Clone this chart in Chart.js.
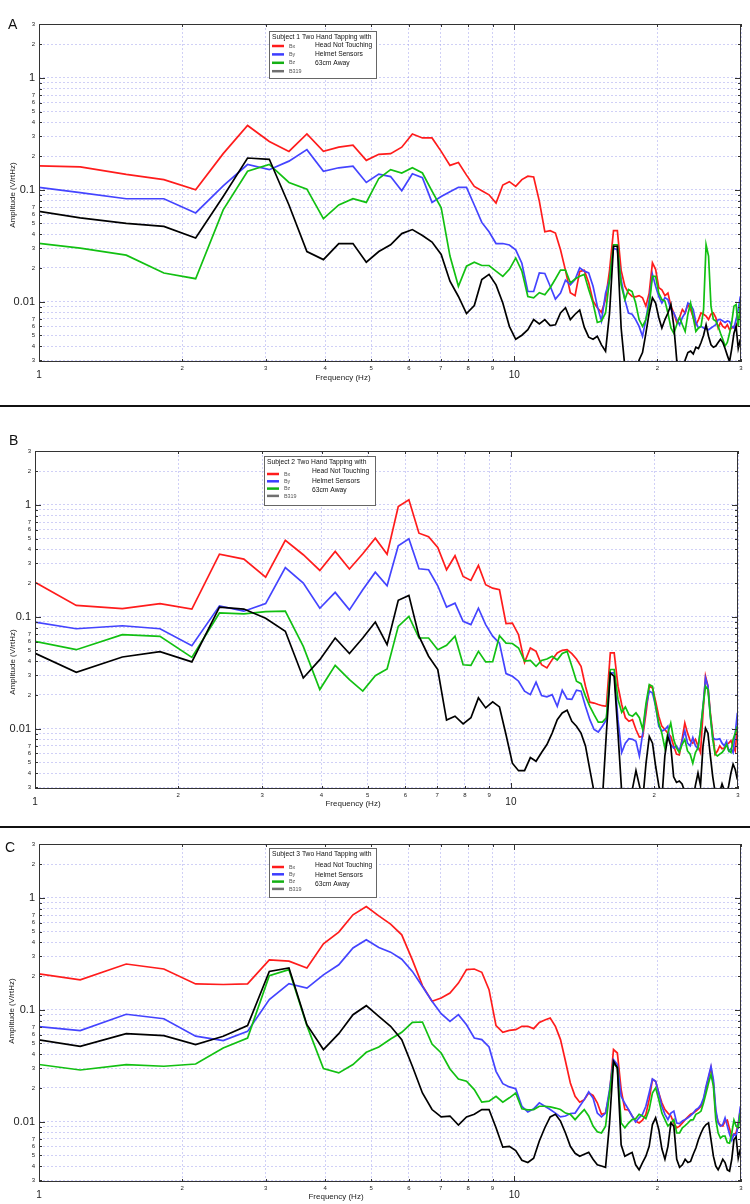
<!DOCTYPE html>
<html>
<head>
<meta charset="utf-8">
<script src="https://cdn.jsdelivr.net/npm/chart.js@4.4.0/dist/chart.umd.min.js"></script>
<style>
  body { margin: 0; background: #fff; }
  #page { position: relative; width: 750px; height: 1204px; overflow: hidden; font-family: 'Liberation Sans', Arial, sans-serif; }
  .panel { position: absolute; left: 0; }
  .letter { position: absolute; font-size: 14px; line-height: 14px; color: #111; }
  .sep { position: absolute; left: 0; width: 750px; height: 2px; background: #111; }
</style>
</head>
<body>
<div id="page">
  <div class="panel" style="top:0px"><canvas id="chartA" width="750" height="405"></canvas></div>
  <div class="sep" style="top:405px"></div>
  <div class="panel" style="top:407px"><canvas id="chartB" width="750" height="420"></canvas></div>
  <div class="sep" style="top:826px"></div>
  <div class="panel" style="top:828px"><canvas id="chartC" width="750" height="376"></canvas></div>
  <div class="letter" style="left:8px;top:17px">A</div>
  <div class="letter" style="left:9px;top:433px">B</div>
  <div class="letter" style="left:5px;top:840px">C</div>
</div>
<script>
// frequency bins (Hz)
const freqs = [
  0.916, 1.221, 1.526, 1.831, 2.136, 2.441, 2.747, 3.052, 3.357, 3.662,
  3.967, 4.273, 4.578, 4.883, 5.188, 5.493, 5.798, 6.104, 6.409, 6.714,
  7.019, 7.324, 7.630, 7.935, 8.240, 8.545, 8.850, 9.155, 9.461, 9.766,
  10.071, 10.376, 10.681, 10.986, 11.292, 11.597, 11.902, 12.207, 12.512, 12.818,
  13.123, 13.428, 13.733, 14.038, 14.343, 14.649, 14.954, 15.259, 15.564, 15.869,
  16.175, 16.480, 16.785, 17.090, 17.395, 17.700, 18.006, 18.311, 18.616, 18.921,
  19.226, 19.532, 19.837, 20.142, 20.447, 20.752, 21.057, 21.363, 21.668, 21.973,
  22.278, 22.583, 22.888, 23.194, 23.499, 23.804, 24.109, 24.414, 24.720, 25.025,
  25.330, 25.635, 25.940, 26.245, 26.551, 26.856, 27.161, 27.466, 27.771, 28.076,
  28.382, 28.687, 28.992, 29.297, 29.602, 29.908
];

const seriesNames = ['Bx', 'By', 'Bz', 'B319'];
const lineColors = ['#ff1c1c', '#4444ff', '#12c012', '#000000'];
const legendColors = ['#ff1c1c', '#3c3cff', '#14b014', '#707070'];
const noteLines = ['Head Not Touching', 'Helmet Sensors', '63cm Away'];
const panelTitles = ['Subject 1 Two Hand Tapping with', 'Subject 2 Two Hand Tapping with', 'Subject 3 Two Hand Tapping with'];

const xTickValues = [1, 2, 3, 4, 5, 6, 7, 8, 9, 10, 20, 30];
const xTickLabels = ['1', '2', '3', '4', '5', '6', '7', '8', '9', '10', '2', '3'];
const yTickValues = [0.003, 0.004, 0.005, 0.006, 0.007, 0.008, 0.009,
  0.01, 0.02, 0.03, 0.04, 0.05, 0.06, 0.07, 0.08, 0.09,
  0.1, 0.2, 0.3, 0.4, 0.5, 0.6, 0.7, 0.8, 0.9, 1, 2, 3];
const yTickLabels = ['3', '4', '5', '6', '7', '', '',
  '0.01', '2', '3', '4', '5', '6', '7', '', '',
  '0.1', '2', '3', '4', '5', '6', '7', '', '', '1', '2', '3'];

// Subject 1
const redA = [
  0.165, 0.16, 0.137, 0.123, 0.1, 0.21, 0.375, 0.27, 0.22, 0.315,
  0.22, 0.24, 0.25, 0.183, 0.207, 0.21, 0.24, 0.315, 0.29, 0.29,
  0.22, 0.165, 0.175, 0.135, 0.107, 0.098, 0.09, 0.076, 0.11, 0.118,
  0.107, 0.123, 0.132, 0.13, 0.079, 0.042, 0.043, 0.041, 0.029, 0.019,
  0.012, 0.0113, 0.0186, 0.019, 0.0147, 0.0101, 0.0088, 0.008, 0.0104, 0.019,
  0.043, 0.043, 0.019, 0.0137, 0.0119, 0.0111, 0.011, 0.0113, 0.0108, 0.0091,
  0.0119, 0.0222, 0.0194, 0.0133, 0.0127, 0.0113, 0.0119, 0.0091, 0.0079, 0.0065,
  0.0072, 0.0085, 0.0079, 0.0094, 0.0085, 0.0072, 0.0062, 0.0069, 0.0079, 0.0077,
  0.0074, 0.0069, 0.0077, 0.0079, 0.0072, 0.0058, 0.0065, 0.006, 0.0058, 0.0062,
  0.0056, 0.0058, 0.006, 0.0058, 0.0069, 0.0079
];
const blueA = [
  0.11, 0.094, 0.083, 0.083, 0.062, 0.108, 0.168, 0.151, 0.18, 0.228,
  0.146, 0.157, 0.162, 0.116, 0.138, 0.131, 0.098, 0.139, 0.128, 0.077,
  0.087, 0.096, 0.105, 0.105, 0.073, 0.051, 0.042, 0.033, 0.033, 0.032,
  0.029, 0.022, 0.0123, 0.0123, 0.018, 0.0178, 0.0137, 0.0105, 0.0119, 0.0155,
  0.0141, 0.0157, 0.02, 0.0187, 0.018, 0.0137, 0.0091, 0.0067, 0.0119, 0.0157,
  0.03, 0.029, 0.0157, 0.0104, 0.0079, 0.0077, 0.0069, 0.006, 0.0049, 0.0069,
  0.0104, 0.0175, 0.0137, 0.0111, 0.0097, 0.0108, 0.0104, 0.0085, 0.0079, 0.0069,
  0.0062, 0.0072, 0.0079, 0.0097, 0.0094, 0.0085, 0.0065, 0.0058, 0.006, 0.0058,
  0.0057, 0.0056, 0.0058, 0.006, 0.0062, 0.0069, 0.0069, 0.0067, 0.0065, 0.0067,
  0.0066, 0.006, 0.0058, 0.0069, 0.0085, 0.0111
];
const greenA = [
  0.0345, 0.030, 0.026, 0.018, 0.016, 0.066, 0.146, 0.168, 0.116, 0.101,
  0.055, 0.073, 0.083, 0.077, 0.126, 0.151, 0.141, 0.157, 0.141, 0.097,
  0.069, 0.0255, 0.0137, 0.0207, 0.0225, 0.021, 0.021, 0.0187, 0.0168, 0.0194,
  0.0245, 0.0187, 0.0111, 0.0108, 0.012, 0.0115, 0.0133, 0.0159, 0.0191, 0.0191,
  0.0147, 0.0159, 0.0168, 0.0175, 0.0128, 0.0097, 0.0065, 0.0067, 0.0079, 0.0157,
  0.0322, 0.0322, 0.0141, 0.0104, 0.0128, 0.0123, 0.0097, 0.0069, 0.006, 0.0069,
  0.0091, 0.0168, 0.0168, 0.0119, 0.0104, 0.0101, 0.0079, 0.0058, 0.0052, 0.0062,
  0.0072, 0.0062, 0.0054, 0.0077, 0.0097, 0.0072, 0.0054, 0.0058, 0.006, 0.0085,
  0.0322, 0.0255, 0.0091, 0.0069, 0.0067, 0.006, 0.0052, 0.0046, 0.004, 0.0043,
  0.0052, 0.0065, 0.0091, 0.0094, 0.006, 0.0097
];
const blackA = [
  0.068, 0.056, 0.05, 0.047, 0.037, 0.087, 0.192, 0.187, 0.073, 0.028,
  0.0237, 0.033, 0.033, 0.0225, 0.028, 0.0322, 0.0405, 0.044, 0.039, 0.034,
  0.0264, 0.0152, 0.0111, 0.0078, 0.0092, 0.0157, 0.0175, 0.0141, 0.0097, 0.006,
  0.0046, 0.005, 0.0056, 0.0069, 0.0063, 0.0069, 0.0061, 0.0062, 0.0079, 0.0088,
  0.0069, 0.0077, 0.0084, 0.0059, 0.0048, 0.0046, 0.0049, 0.0041, 0.0036, 0.0079,
  0.0312, 0.0312, 0.0058, 0.0026, 0.002, 0.002, 0.0023, 0.003, 0.0035, 0.0052,
  0.0079, 0.0108, 0.0097, 0.0072, 0.0058, 0.0069, 0.0079, 0.0094, 0.006, 0.003,
  0.0025, 0.0023, 0.003, 0.0035, 0.0036, 0.0034, 0.0039, 0.0038, 0.0043, 0.005,
  0.0062, 0.0049, 0.0041, 0.0039, 0.004, 0.0043, 0.0046, 0.0043, 0.0038, 0.0033,
  0.0029, 0.0038, 0.0052, 0.006, 0.0038, 0.0046
];

// Subject 2
const redB = [
  0.25, 0.126, 0.118, 0.131, 0.117, 0.362, 0.327, 0.226, 0.481, 0.358,
  0.259, 0.383, 0.267, 0.365, 0.503, 0.362, 0.966, 1.108, 0.558, 0.518,
  0.416, 0.263, 0.351, 0.229, 0.211, 0.287, 0.193, 0.18, 0.174, 0.0866,
  0.0877, 0.069, 0.039, 0.0525, 0.049, 0.0372, 0.0348, 0.0413, 0.0474, 0.05,
  0.0507, 0.0467, 0.0419, 0.036, 0.0239, 0.0172, 0.0169, 0.0164, 0.016, 0.0158,
  0.0474, 0.0474, 0.0239, 0.0164, 0.0125, 0.0116, 0.012, 0.0098, 0.0084, 0.0085,
  0.0138, 0.0239, 0.023, 0.0175, 0.0129, 0.0105, 0.0098, 0.0091, 0.0085, 0.007,
  0.0059, 0.0058, 0.008, 0.0112, 0.0091, 0.0078, 0.0074, 0.008, 0.007, 0.0061,
  0.0138, 0.0293, 0.0239, 0.0138, 0.0091, 0.0059, 0.0063, 0.007, 0.0066, 0.0067,
  0.0072, 0.0074, 0.0078, 0.007, 0.0063, 0.0105
];
const blueB = [
  0.095, 0.078, 0.083, 0.078, 0.055, 0.125, 0.112, 0.131, 0.275, 0.2,
  0.119, 0.165, 0.115, 0.174, 0.25, 0.189, 0.43, 0.497, 0.268, 0.263,
  0.189, 0.122, 0.132, 0.091, 0.085, 0.119, 0.085, 0.067, 0.058, 0.031,
  0.0293, 0.0265, 0.0216, 0.0201, 0.026, 0.0197, 0.0192, 0.0201, 0.0158, 0.022,
  0.0184, 0.0182, 0.022, 0.0216, 0.0158, 0.012, 0.0098, 0.0093, 0.0105, 0.012,
  0.0314, 0.0314, 0.012, 0.0061, 0.0074, 0.0081, 0.008, 0.0077, 0.0057, 0.0091,
  0.0158, 0.0216, 0.0208, 0.0158, 0.0105, 0.0095, 0.0098, 0.0105, 0.0072, 0.0067,
  0.007, 0.0063, 0.0077, 0.0095, 0.0074, 0.007, 0.0083, 0.007, 0.0066, 0.0098,
  0.0158, 0.0283, 0.0239, 0.0129, 0.0083, 0.008, 0.008, 0.0081, 0.0074, 0.007,
  0.0077, 0.0063, 0.0066, 0.0061, 0.0091, 0.0138
];
const greenB = [
  0.065, 0.0507, 0.069, 0.0667, 0.0433, 0.108, 0.106, 0.111, 0.112, 0.0543,
  0.0223, 0.0367, 0.0274, 0.0216, 0.0297, 0.0341, 0.082, 0.1007, 0.0645, 0.0645,
  0.0507, 0.0555, 0.067, 0.0372, 0.0367, 0.049, 0.0394, 0.0396, 0.0676, 0.058,
  0.0576, 0.0525, 0.04, 0.0406, 0.036, 0.0406, 0.0419, 0.0443, 0.041, 0.047,
  0.049, 0.036, 0.0265, 0.0252, 0.0195, 0.0158, 0.0133, 0.0114, 0.0114, 0.0125,
  0.0337, 0.0337, 0.0182, 0.014, 0.0156, 0.0133, 0.0129, 0.0138, 0.0125, 0.0098,
  0.0169, 0.0247, 0.0239, 0.0158, 0.0112, 0.0091, 0.0067, 0.0091, 0.0112, 0.008,
  0.0067, 0.0061, 0.0072, 0.008, 0.0063, 0.0059, 0.0049, 0.0061, 0.0067, 0.0098,
  0.0158, 0.0239, 0.0223, 0.0129, 0.008, 0.0059, 0.0057, 0.0059, 0.0061, 0.0065,
  0.0072, 0.0063, 0.0061, 0.008, 0.0091, 0.0105
];
const blackB = [
  0.056, 0.0318, 0.0436, 0.0487, 0.0394, 0.122, 0.117, 0.097, 0.074, 0.0283,
  0.0413, 0.0645, 0.0468, 0.0645, 0.0896, 0.0563, 0.14, 0.155, 0.067, 0.0443,
  0.0337, 0.0119, 0.0129, 0.011, 0.0125, 0.0188, 0.0153, 0.0173, 0.0156, 0.0088,
  0.0049, 0.0042, 0.0042, 0.0055, 0.0051, 0.0061, 0.0072, 0.0091, 0.012, 0.0138,
  0.0146, 0.0116, 0.0105, 0.0091, 0.007, 0.0043, 0.0027, 0.0019, 0.0023, 0.0091,
  0.0314, 0.0293, 0.0091, 0.0027, 0.0016, 0.0018, 0.0029, 0.0042, 0.0031, 0.0023,
  0.0049, 0.0085, 0.0074, 0.0046, 0.0031, 0.0023, 0.0057, 0.0085, 0.007, 0.0037,
  0.0033, 0.0034, 0.0032, 0.0027, 0.0023, 0.002, 0.0023, 0.0031, 0.004, 0.0031,
  0.007, 0.0101, 0.0091, 0.0057, 0.0037, 0.0027, 0.0023, 0.0027, 0.0032, 0.0028,
  0.0025, 0.0031, 0.004, 0.0048, 0.0043, 0.0035
];

// Subject 3
const redC = [
  0.22, 0.185, 0.256, 0.231, 0.17, 0.168, 0.17, 0.279, 0.272, 0.236,
  0.388, 0.494, 0.705, 0.837, 0.69, 0.582, 0.467, 0.279, 0.164, 0.119,
  0.127, 0.141, 0.173, 0.228, 0.231, 0.216, 0.151, 0.072, 0.0628, 0.0654,
  0.0663, 0.071, 0.071, 0.0677, 0.077, 0.081, 0.0843, 0.071, 0.054, 0.0346,
  0.0221, 0.0168, 0.0149, 0.0157, 0.018, 0.0171, 0.0147, 0.0116, 0.0119, 0.018,
  0.044, 0.041, 0.0193, 0.0128, 0.0127, 0.0112, 0.0101, 0.0097, 0.0103, 0.0116,
  0.0157, 0.0237, 0.0229, 0.018, 0.0147, 0.0128, 0.0119, 0.0112, 0.0097, 0.0088,
  0.0091, 0.0097, 0.0104, 0.011, 0.0116, 0.0119, 0.0124, 0.013, 0.0137, 0.0157,
  0.02, 0.0245, 0.0302, 0.0221, 0.0119, 0.0099, 0.0092, 0.0091, 0.0101, 0.0103,
  0.0086, 0.0074, 0.0077, 0.0079, 0.0097, 0.0128
];
const blueC = [
  0.073, 0.065, 0.091, 0.083, 0.058, 0.053, 0.064, 0.123, 0.171, 0.156,
  0.205, 0.252, 0.356, 0.422, 0.36, 0.327, 0.283, 0.22, 0.161, 0.119,
  0.092, 0.0787, 0.0902, 0.0734, 0.0558, 0.054, 0.0464, 0.0281, 0.0218, 0.0204,
  0.0197, 0.0137, 0.0122, 0.013, 0.0147, 0.0137, 0.0128, 0.0119, 0.011, 0.0112,
  0.0118, 0.0119, 0.0137, 0.0157, 0.0184, 0.0162, 0.0119, 0.011, 0.0119, 0.0193,
  0.0358, 0.0323, 0.0168, 0.0145, 0.0128, 0.0112, 0.0099, 0.0108, 0.0116, 0.0137,
  0.018, 0.024, 0.0229, 0.018, 0.0137, 0.0116, 0.0104, 0.0119, 0.0124, 0.0097,
  0.0096, 0.0101, 0.0104, 0.0108, 0.0113, 0.0119, 0.0128, 0.0132, 0.0142, 0.0162,
  0.0207, 0.0254, 0.0312, 0.0237, 0.0128, 0.0097, 0.0091, 0.0094, 0.0108, 0.0091,
  0.0077, 0.0068, 0.0077, 0.0074, 0.0094, 0.0137
];
const greenC = [
  0.034, 0.0289, 0.0323, 0.0312, 0.0327, 0.0455, 0.0558, 0.201, 0.228, 0.072,
  0.0297, 0.0272, 0.0323, 0.0416, 0.0464, 0.0547, 0.0628, 0.077, 0.0776, 0.0493,
  0.041, 0.0295, 0.024, 0.0229, 0.0193, 0.0149, 0.0152, 0.0168, 0.0149, 0.0163,
  0.018, 0.013, 0.0127, 0.0128, 0.0137, 0.0137, 0.0135, 0.0132, 0.0128, 0.0119,
  0.0116, 0.0104, 0.0116, 0.0128, 0.0112, 0.0091, 0.0081, 0.0079, 0.0091, 0.018,
  0.0332, 0.0302, 0.0097, 0.0088, 0.0097, 0.0104, 0.0106, 0.0116, 0.0112, 0.0106,
  0.0128, 0.018, 0.02, 0.0157, 0.0119, 0.0104, 0.0091, 0.0097, 0.0104, 0.0079,
  0.0079, 0.0088, 0.0092, 0.0097, 0.0103, 0.0104, 0.0116, 0.0119, 0.0124, 0.0147,
  0.018, 0.0221, 0.0263, 0.0207, 0.0104, 0.0079, 0.0071, 0.0074, 0.0074, 0.0065,
  0.0064, 0.0079, 0.0103, 0.0091, 0.0088, 0.0119
];
const blackC = [
  0.057, 0.047, 0.061, 0.0586, 0.0487, 0.0578, 0.072, 0.22, 0.236, 0.0734,
  0.044, 0.061, 0.0902, 0.1086, 0.0871, 0.071, 0.054, 0.0312, 0.018, 0.0128,
  0.011, 0.0112, 0.0093, 0.011, 0.0116, 0.0128, 0.0128, 0.0088, 0.0059, 0.006,
  0.0055, 0.0045, 0.0043, 0.0047, 0.0067, 0.0088, 0.011, 0.0116, 0.0101, 0.0079,
  0.006, 0.0052, 0.0049, 0.0051, 0.0053, 0.0046, 0.0041, 0.004, 0.0039, 0.0097,
  0.0346, 0.0302, 0.0062, 0.0049, 0.0051, 0.0053, 0.0041, 0.0037, 0.0043, 0.0049,
  0.006, 0.0094, 0.0108, 0.0085, 0.0057, 0.0046, 0.006, 0.0097, 0.0091, 0.0046,
  0.0039, 0.0041, 0.0046, 0.0043, 0.0044, 0.0051, 0.0058, 0.0069, 0.0079, 0.0088,
  0.0094, 0.0097, 0.0069, 0.0049, 0.004, 0.0037, 0.0041, 0.0046, 0.0043, 0.0037,
  0.0036, 0.0046, 0.0069, 0.0073, 0.0047, 0.0057
];

Chart.defaults.font.family = "'Liberation Sans', Arial, sans-serif";
const gridColor = 'rgba(150, 150, 235, 0.45)';
const isDecade = v => Math.abs(Math.log10(v) - Math.round(Math.log10(v))) < 1e-6;

// narrow text like the original legend font
function narrowText(ctx, text, x, y, squeeze) {
  ctx.save();
  ctx.translate(x, y);
  ctx.scale(squeeze, 1);
  ctx.fillText(text, 0, 0);
  ctx.restore();
}

// frame, inward ticks, legend box and axis titles
const decor = {
  id: 'decor',
  afterDraw(chart, args, o) {
    const { ctx, chartArea: a, scales } = chart;
    ctx.save();
    ctx.strokeStyle = '#333';
    ctx.lineWidth = 1;
    ctx.strokeRect(a.left + 0.5, a.top + 0.5, a.width - 1, a.height - 1);

    ctx.beginPath();
    yTickValues.forEach(v => {
      const y = Math.round(scales.y.getPixelForValue(v)) + 0.5;
      const len = isDecade(v) ? 6 : 3;
      ctx.moveTo(a.left, y); ctx.lineTo(a.left + len, y);
      ctx.moveTo(a.right, y); ctx.lineTo(a.right - len, y);
    });
    xTickValues.forEach(v => {
      const x = Math.round(scales.x.getPixelForValue(v)) + 0.5;
      const len = isDecade(v) ? 6 : 3;
      ctx.moveTo(x, a.bottom); ctx.lineTo(x, a.bottom - len);
      ctx.moveTo(x, a.top); ctx.lineTo(x, a.top + len);
    });
    ctx.stroke();

    // legend
    const lg = o.legend;
    ctx.fillStyle = '#fff';
    ctx.fillRect(lg.x, lg.y, lg.w, lg.h);
    ctx.strokeStyle = '#666';
    ctx.strokeRect(lg.x + 0.5, lg.y + 0.5, lg.w, lg.h);
    ctx.textBaseline = 'middle';
    ctx.textAlign = 'left';
    ctx.fillStyle = '#111';
    ctx.font = "8px 'Liberation Sans', Arial, sans-serif";
    narrowText(ctx, o.title, lg.x + 3, lg.titleY, 0.84);
    seriesNames.forEach((name, i) => {
      const y = lg.rowY + i * lg.rowDy;
      ctx.strokeStyle = legendColors[i];
      ctx.lineWidth = 2.5;
      ctx.beginPath();
      ctx.moveTo(lg.x + 3, y);
      ctx.lineTo(lg.x + 15, y);
      ctx.stroke();
      ctx.fillStyle = '#555';
      ctx.font = "6px 'Liberation Sans', Arial, sans-serif";
      narrowText(ctx, name, lg.x + 20, y, 0.9);
    });
    ctx.fillStyle = '#111';
    ctx.font = "8px 'Liberation Sans', Arial, sans-serif";
    noteLines.forEach((t, i) => {
      narrowText(ctx, t, lg.x + lg.noteX, lg.noteY + i * lg.noteDy, 0.84);
    });

    // axis titles
    ctx.fillStyle = '#222';
    ctx.textAlign = 'center';
    ctx.font = "8px 'Liberation Sans', Arial, sans-serif";
    ctx.fillText('Frequency (Hz)', o.freqX, o.freqY);
    ctx.translate(o.ampX, o.ampY);
    ctx.rotate(-Math.PI / 2);
    ctx.fillText('Amplitude (V/rtHz)', 0, 0);
    ctx.restore();
  }
};

function makePanel(id, series, geo) {
  const datasets = series.map((vals, i) => ({
    label: seriesNames[i],
    data: vals.map((v, j) => ({ x: freqs[j], y: v })),
    borderColor: lineColors[i],
    borderWidth: 1.7,
    pointRadius: 0,
    tension: 0,
    fill: false,
    clip: 0,
    order: 4 - i
  }));
  return new Chart(document.getElementById(id), {
    type: 'line',
    data: { datasets },
    options: {
      responsive: false,
      animation: false,
      events: [],
      layout: { autoPadding: false, padding: { left: 0, top: geo.top, right: geo.right, bottom: 0 } },
      plugins: { legend: { display: false }, tooltip: { enabled: false }, decor: geo },
      scales: {
        x: {
          type: 'logarithmic',
          min: 1,
          max: 30,
          afterBuildTicks: s => { s.ticks = xTickValues.map(v => ({ value: v })); },
          afterFit: s => { s.height = geo.xHeight; },
          ticks: {
            autoSkip: false,
            maxRotation: 0,
            padding: 0,
            color: '#222',
            callback: (v, i) => xTickLabels[i],
            font: c => (c.tick && isDecade(c.tick.value)) ? { size: 10, lineHeight: 2.6 } : { size: 6, lineHeight: 2 }
          },
          grid: { color: gridColor, lineWidth: 1, drawTicks: false },
          border: { display: false, dash: [2, 2] }
        },
        y: {
          type: 'logarithmic',
          min: 0.00288,
          max: 3.03,
          afterBuildTicks: s => { s.ticks = yTickValues.map(v => ({ value: v })); },
          afterFit: s => { s.width = geo.yWidth; },
          ticks: {
            autoSkip: false,
            padding: 4,
            color: '#222',
            callback: (v, i) => yTickLabels[i],
            font: c => (c.tick && isDecade(c.tick.value)) ? { size: 11 } : { size: 6 }
          },
          grid: { color: gridColor, lineWidth: 1, drawTicks: false },
          border: { display: false, dash: [2, 2] }
        }
      }
    },
    plugins: [decor]
  });
}

makePanel('chartA', [redA, blueA, greenA, blackA], {
  top: 24, right: 9, yWidth: 39, xHeight: 43,
  title: panelTitles[0],
  legend: { x: 269, y: 31, w: 107, h: 47, titleY: 37, rowY: 46, rowDy: 8.4, noteX: 46, noteY: 45, noteDy: 9 },
  freqX: 343, freqY: 378, ampX: 13, ampY: 195
});
makePanel('chartB', [redB, blueB, greenB, blackB], {
  top: 44, right: 12, yWidth: 35, xHeight: 38,
  title: panelTitles[1],
  legend: { x: 264, y: 49, w: 111, h: 49, titleY: 55, rowY: 67, rowDy: 7.3, noteX: 48, noteY: 64, noteDy: 9.5 },
  freqX: 353, freqY: 397, ampX: 13, ampY: 255
});
makePanel('chartC', [redC, blueC, greenC, blackC], {
  top: 16, right: 9, yWidth: 39, xHeight: 22,
  title: panelTitles[2],
  legend: { x: 269, y: 20, w: 107, h: 49, titleY: 26, rowY: 39, rowDy: 7.3, noteX: 46, noteY: 37, noteDy: 9.5 },
  freqX: 336, freqY: 369, ampX: 12, ampY: 183
});
</script>
</body>
</html>
